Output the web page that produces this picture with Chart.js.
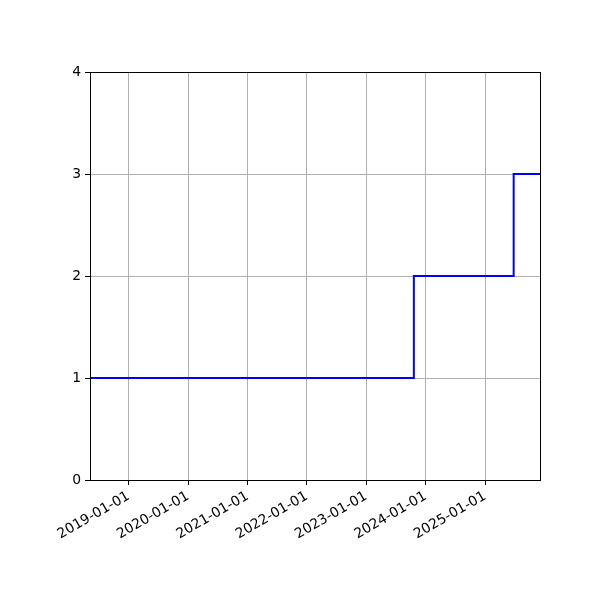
<!DOCTYPE html>
<html>
<head>
<meta charset="utf-8">
<script src="https://cdn.jsdelivr.net/npm/chart.js@4/dist/chart.umd.min.js"></script>
<style>
html,body{margin:0;padding:0;background:#fff;}
canvas{display:block;}
</style>
</head>
<body>
<canvas id="c" width="600" height="600"></canvas>
<script>
// Data
const dates = ["2018-05-08", "2023-10-21", "2025-06-26", "2025-12-05"];
const values = [1, 2, 3, 3];
const xTickLabels = ["2019-01-01", "2020-01-01", "2021-01-01", "2022-01-01", "2023-01-01", "2024-01-01", "2025-01-01"];
const yTicks = [0, 1, 2, 3, 4];

const toMs = s => Date.parse(s + "T00:00:00Z");
const points = dates.map((d, i) => ({x: toMs(d), y: values[i]}));
const xTickVals = xTickLabels.map(toMs);
const labelByVal = {};
xTickVals.forEach((v, i) => labelByVal[v] = xTickLabels[i]);

const frame = {
  id: 'frame',
  afterDraw(chart) {
    const a = chart.chartArea, ctx = chart.ctx;
    ctx.save();
    ctx.strokeStyle = '#000';
    ctx.lineWidth = 1;
    ctx.strokeRect(Math.round(a.left) + 0.5, Math.round(a.top) + 0.5, Math.round(a.right - a.left), Math.round(a.bottom - a.top));
    ctx.restore();
  }
};

Chart.defaults.font.family = "'DejaVu Sans', sans-serif";
Chart.defaults.font.size = 13.9;
Chart.defaults.color = '#000';

new Chart(document.getElementById('c'), {
  type: 'line',
  data: {
    datasets: [{
      data: points,
      borderColor: '#0000ff',
      borderWidth: 2,
      stepped: true,
      pointRadius: 0,
      fill: false,
      tension: 0
    }]
  },
  options: {
    responsive: false,
    animation: false,
    devicePixelRatio: 1,
    layout: {padding: {left: 0, right: 60, top: 72, bottom: 0}},
    plugins: {legend: {display: false}, tooltip: {enabled: false}},
    scales: {
      x: {
        type: 'linear',
        min: toMs(dates[0]),
        max: toMs(dates[dates.length - 1]),
        afterBuildTicks(scale) {
          scale.ticks = xTickVals.map(v => ({value: v}));
        },
        afterFit(scale) { scale.height = 120; },
        ticks: {
          autoSkip: false,
          minRotation: 30,
          maxRotation: 30,
          padding: 3,
          callback: v => labelByVal[v] || ''
        },
        grid: {
          color: '#b0b0b0',
          lineWidth: 1,
          tickColor: '#000',
          tickLength: 5,
          drawOnChartArea: true
        },
        border: {color: '#000', width: 1}
      },
      y: {
        min: 0,
        max: 4,
        afterBuildTicks(scale) {
          scale.ticks = yTicks.map(v => ({value: v}));
        },
        afterFit(scale) { scale.width = 90; },
        ticks: {padding: 4},
        grid: {
          color: '#b0b0b0',
          lineWidth: 1,
          tickColor: '#000',
          tickLength: 5
        },
        border: {color: '#000', width: 1}
      }
    }
  },
  plugins: [frame]
});
</script>
</body>
</html>
